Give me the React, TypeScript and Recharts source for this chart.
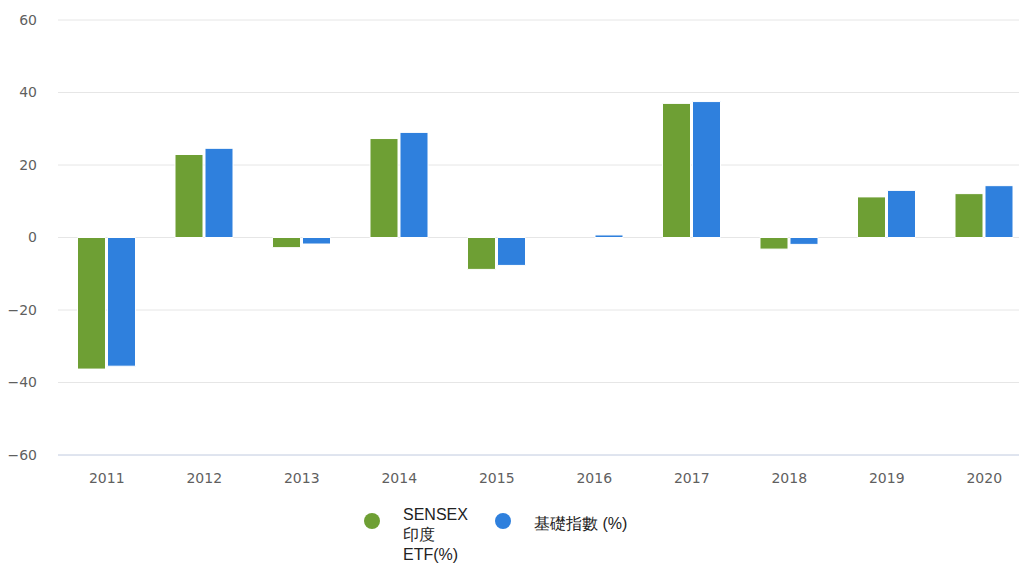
import React from 'react';
import { BarChart, Bar, XAxis, YAxis, CartesianGrid, Legend } from 'recharts';

// Annual returns
const years = ['2011', '2012', '2013', '2014', '2015', '2016', '2017', '2018', '2019', '2020'];
const etfReturns: (number | null)[] = [-36.3, 22.9, -2.8, 27.3, -8.8, null, 37.0, -3.2, 11.2, 12.1];
const indexReturns = [-35.5, 24.6, -1.8, 29.0, -7.7, 0.7, 37.5, -1.9, 13.0, 14.3];
const yTicks = [-60, -40, -20, 0, 20, 40, 60];

const etfName = 'SENSEX 印度 ETF(%)';
const indexName = '基礎指數 (%)';

const data = years.map((year, i) => ({
  year,
  etf: etfReturns[i],
  index: indexReturns[i],
}));

const tickFont = {
  fill: '#5f5f5f',
  fontSize: 14,
  fontFamily: '"DejaVu Sans", Verdana, sans-serif',
};

// use a real minus sign like the original
const fmtY = (v: number) => (v < 0 ? `\u2212${Math.abs(v)}` : `${v}`);

const LegendContent = (props: any) => {
  const items = props.payload || [];
  return (
    <div style={{ display: 'flex', alignItems: 'flex-start', fontFamily: '"Liberation Sans", Arial, sans-serif' }}>
      {items.map((item: any, i: number) => (
        <div key={i} style={{ display: 'flex', alignItems: 'flex-start', marginRight: 22 }}>
          <span
            style={{
              display: 'inline-block',
              width: 16,
              height: 16,
              borderRadius: '50%',
              background: item.color,
              marginTop: 8,
              marginRight: 23,
            }}
          />
          <span
            style={{
              display: 'inline-block',
              width: i === 0 ? 70 : 'auto',
              fontSize: 16,
              lineHeight: '20px',
              color: '#222222',
              marginTop: i === 0 ? 0 : 9,
            }}
          >
            {item.value}
          </span>
        </div>
      ))}
    </div>
  );
};

const App = () => (
  <div style={{ position: 'absolute', left: 0, top: 0, width: 1019, height: 563, overflow: 'hidden', background: '#fff' }}>
    <BarChart
      width={1033}
      height={563}
      data={data}
      margin={{ top: 20, right: 0, bottom: 0, left: 0 }}
      barCategoryGap="20%"
      barGap={2}
    >
      <CartesianGrid vertical={false} stroke="#e6e6e6" />
      <XAxis
        dataKey="year"
        height={108}
        axisLine={{ stroke: '#ccd6eb' }}
        tickLine={false}
        tickMargin={12}
        tick={tickFont}
      />
      <YAxis
        width={58}
        domain={[-60, 60]}
        ticks={yTicks}
        tickFormatter={fmtY}
        axisLine={false}
        tickLine={false}
        tickMargin={15}
        tick={tickFont}
      />
      <Legend
        verticalAlign="middle"
        layout="horizontal"
        content={<LegendContent />}
        wrapperStyle={{ top: 505, left: 364, width: 'auto', height: 'auto' }}
      />
      <Bar dataKey="etf" name={etfName} fill="#6e9f34" stroke="#ffffff" strokeWidth={1} isAnimationActive={false} />
      <Bar dataKey="index" name={indexName} fill="#2f80dd" stroke="#ffffff" strokeWidth={1} isAnimationActive={false} />
    </BarChart>
  </div>
);

export default App;
